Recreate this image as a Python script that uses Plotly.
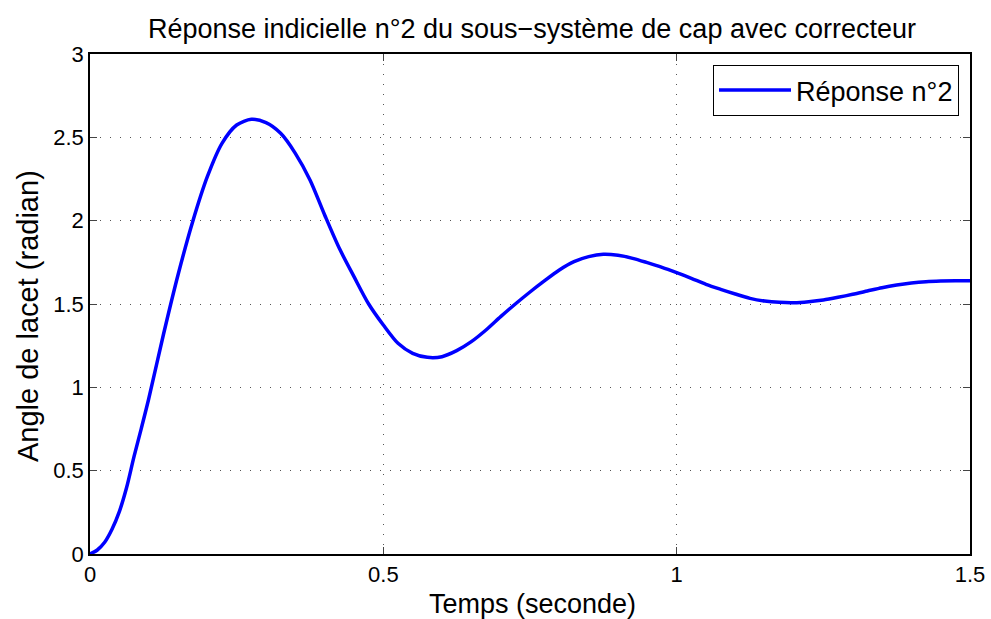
import plotly.graph_objects as go

t_vals = [0.0, 0.0125, 0.025, 0.0375, 0.05, 0.0625, 0.075, 0.0875, 0.1, 0.125, 0.15, 0.175, 0.2, 0.225,
          0.25, 0.275, 0.3, 0.325, 0.35, 0.375, 0.4, 0.425, 0.45, 0.475,
          0.5, 0.525, 0.55, 0.575, 0.6, 0.625, 0.65, 0.675, 0.7, 0.725,
          0.75, 0.775, 0.8, 0.825, 0.85, 0.875, 0.9, 0.925, 0.95, 0.975,
          1.0, 1.025, 1.05, 1.075, 1.1, 1.125, 1.15, 1.175, 1.2, 1.225,
          1.25, 1.275, 1.3, 1.325, 1.35, 1.375, 1.4, 1.425, 1.45, 1.475, 1.5]
y_vals = [0.0, 0.024, 0.07, 0.148, 0.254, 0.4, 0.584, 0.754, 0.93, 1.314, 1.674, 1.994, 2.264, 2.464,
          2.574, 2.608, 2.588, 2.524, 2.404, 2.244, 2.034, 1.834, 1.664, 1.5,
          1.374, 1.264, 1.204, 1.18, 1.184, 1.22, 1.274, 1.344, 1.424, 1.5,
          1.572, 1.64, 1.704, 1.754, 1.784, 1.798, 1.792, 1.774, 1.748, 1.72,
          1.688, 1.654, 1.618, 1.588, 1.56, 1.534, 1.518, 1.51, 1.508, 1.514,
          1.524, 1.54, 1.558, 1.578, 1.598, 1.614, 1.626, 1.634, 1.638, 1.64, 1.64]

x_ticks = [0, 0.5, 1, 1.5]
x_tick_labels = ["0", "0.5", "1", "1.5"]
y_ticks = [0, 0.5, 1, 1.5, 2, 2.5, 3]
y_tick_labels = ["0", "0.5", "1", "1.5", "2", "2.5", "3"]

title_text = "Réponse indicielle n°2 du sous−système de cap avec correcteur"
x_title = "Temps (seconde)"
y_title = "Angle de lacet (radian)"
series_name = "Réponse n°2"

font_family = "Liberation Sans, Arial, sans-serif"

fig = go.Figure()
fig.add_trace(go.Scatter(
    x=t_vals, y=y_vals, mode="lines", name=series_name,
    line=dict(color="#0000ff", width=3.5, shape="spline", smoothing=0.8),
))

axis_common = dict(
    showline=True, linecolor="black", linewidth=1.5, mirror="ticks",
    ticks="inside", ticklen=7, tickcolor="#444444", tickwidth=1,
    showgrid=True, gridcolor="#555555", griddash="1px,9px", gridwidth=1,
    zeroline=False, automargin=False,
    tickfont=dict(family=font_family, size=22, color="black"),
)

fig.update_layout(
    width=991, height=619,
    margin=dict(l=90, r=21, t=54, b=65, autoexpand=False),
    paper_bgcolor="white", plot_bgcolor="white",
    font=dict(family=font_family, color="black"),
    title=dict(text=title_text,
               x=532 / 991, xanchor="center", y=1 - 29 / 619, yanchor="middle",
               font=dict(family=font_family, size=27, color="black")),
    xaxis=dict(range=[0, 1.5], tickvals=x_ticks, ticktext=x_tick_labels, **axis_common),
    yaxis=dict(range=[0, 3], tickvals=y_ticks, ticktext=y_tick_labels, **axis_common),
    showlegend=True,
    legend=dict(x=0.9875, xanchor="right", y=0.978, yanchor="top",
                bgcolor="white", bordercolor="black", borderwidth=1,
                font=dict(family=font_family, size=27, color="black"),
                itemwidth=72),
    annotations=[
        dict(text=x_title, xref="paper", yref="paper", x=(532 - 90) / 880, y=(554 - 604) / 500,
             xanchor="center", yanchor="middle", showarrow=False,
             font=dict(family=font_family, size=27, color="black")),
        dict(text=y_title, xref="paper", yref="paper", x=(28 - 90) / 880, y=(554 - 316) / 500,
             xanchor="center", yanchor="middle", showarrow=False, textangle=-90,
             font=dict(family=font_family, size=29, color="black")),
    ],
)

fig.write_html("out.html", config={"displayModeBar": False},
               post_script="document.documentElement.style.margin='0';document.body.style.margin='0';"
                           "document.documentElement.style.overflow='hidden';document.body.style.overflow='hidden';")
